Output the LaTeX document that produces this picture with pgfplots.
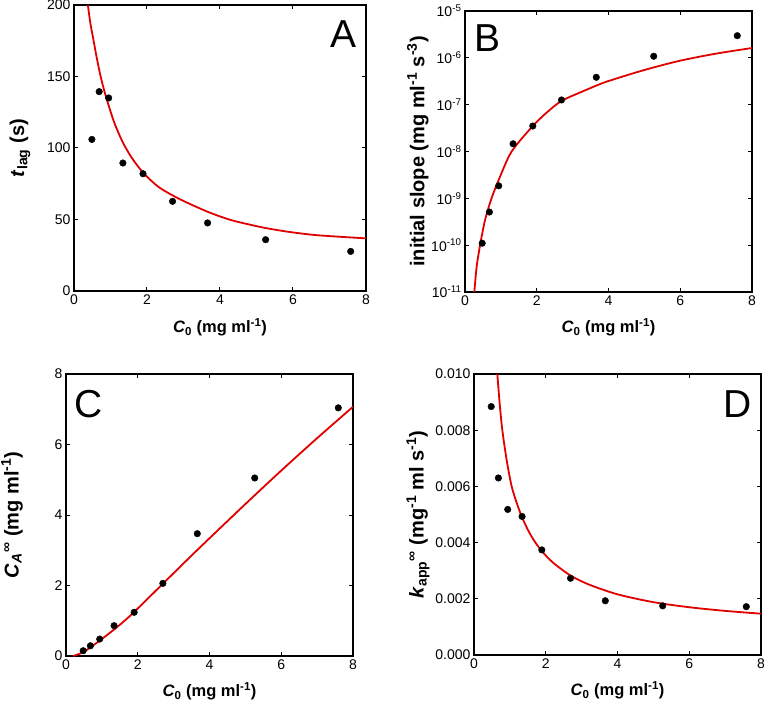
\documentclass[border=0pt]{standalone}
\usepackage{fontspec}
\setmainfont{Liberation Sans}
\usepackage{pgfplots}
\pgfplotsset{compat=1.18}
\definecolor{fitred}{RGB}{224,0,0}
\tikzset{letter/.style={font=\fontsize{39}{40}\selectfont}}
\pgfplotsset{
  panel/.style={scale only axis, anchor=south west,
    xmin=0, xmax=8, xtick={0,2,4,6,8},
    tick align=inside, major tick length=4pt,
    axis line style={line width=1.3pt},
    every tick/.style={black, line width=1pt},
    tick label style={font=\fontsize{14}{16}\selectfont},
    xlabel style={font=\fontsize{16.5}{18}\selectfont\bfseries},
    ylabel style={font=\fontsize{20}{22}\selectfont\bfseries},
    /pgf/number format/assume math mode=true,
    xlabel={\textit{C}\textsubscript{0} (mg ml\textsuperscript{-1})},
    xlabel style={at={(axis description cs:0.5,-0.145)}, anchor=base},
  },
  dots/.style={only marks, mark=*, mark size=3.3pt, black},
  fit/.style={fitred, line width=1.8pt, no marks, smooth, tension=0.5},
}
\begin{document}
\begin{tikzpicture}
\useasboundingbox (0pt,0pt) rectangle (764pt,705pt);

% Panel A
\begin{axis}[panel, at={(74pt,414pt)}, width=292pt, height=286pt,
  ymin=0, ymax=200, ytick={0,50,100,150,200},
  ylabel={\textit{t}\textsubscript{lag} (s)},
  ylabel style={at={(axis description cs:-0.185,0.5)}, anchor=center, rotate=0}]
\addplot[fit] coordinates {(0.38,200) (0.45,187) (0.53,176) (0.62,163.5) (0.73,150) (0.83,140) (0.94,130.5) (1.1,118) (1.28,107) (1.42,100) (1.6,92.5) (1.87,83.4) (2.1,77.5) (2.37,71.8) (2.8,65.5) (3.24,60.1) (3.75,54.5) (4.29,49.7) (4.8,46.5) (5.3,43.8) (5.9,41.3) (6.58,39.2) (7.3,37.9) (8,36.8)};
\addplot[dots] coordinates {(0.49,106) (0.69,139.4) (0.95,135) (1.34,89.5) (1.89,82) (2.70,62.7) (3.66,47.6) (5.25,35.9) (7.58,27.7)};
\node[letter] at (axis description cs:0.923,0.899) {A};
\end{axis}

% Panel B
\begin{axis}[panel, at={(465pt,413pt)}, width=287pt, height=281pt,
  ymode=log, ymin=1e-11, ymax=1e-5, yminorticks=false,
  ytick={1e-11,1e-10,1e-9,1e-8,1e-7,1e-6,1e-5},
  yticklabels={10\textsuperscript{-11},10\textsuperscript{-10},10\textsuperscript{-9},10\textsuperscript{-8},10\textsuperscript{-7},10\textsuperscript{-6},10\textsuperscript{-5}},
  ylabel={initial slope (mg ml\textsuperscript{-1} s\textsuperscript{-3})},
  ylabel style={at={(axis description cs:-0.164,0.5)}, anchor=center, rotate=0}]
\addplot[fit] coordinates {(0.26,1e-11) (0.325,3.47e-11) (0.42,1e-10) (0.56,3.47e-10) (0.74,1e-9) (0.975,2.88e-9) (1.30,1e-8) (1.86,3.3e-8) (2.25,6.5e-8) (2.69,1.2e-7) (3.3,1.95e-7) (3.66,2.55e-7) (4,3.2e-7) (5,5.5e-7) (6,8.7e-7) (7,1.23e-6) (8,1.62e-6)};
\addplot[dots] coordinates {(0.48,1.1e-10) (0.68,5.1e-10) (0.94,1.85e-9) (1.34,1.46e-8) (1.89,3.5e-8) (2.69,1.26e-7) (3.66,3.84e-7) (5.26,1.08e-6) (7.59,2.97e-6)};
\node[letter] at (axis description cs:0.078,0.902) {B};
\end{axis}

% Panel C
\begin{axis}[panel, at={(66pt,49pt)}, width=287pt, height=282pt,
  ymin=0, ymax=8, ytick={0,2,4,6,8},
  ylabel={\textit{C}\textsubscript{\textit{A}}\textsuperscript{∞} (mg ml\textsuperscript{-1})},
  ylabel style={at={(axis description cs:-0.188,0.5)}, anchor=center, rotate=0}]
\addplot[fit] coordinates {(0.2,0) (0.5,0.12) (0.93,0.43) (1.4,0.8) (1.86,1.21) (2.69,2.04) (3.5,2.85) (4,3.34) (5,4.31) (6,5.26) (7,6.18) (8,7.07)};
\addplot[dots] coordinates {(0.48,0.15) (0.68,0.29) (0.94,0.48) (1.34,0.86) (1.90,1.24) (2.70,2.06) (3.66,3.47) (5.26,5.05) (7.59,7.04)};
\node[letter] at (axis description cs:0.077,0.894) {C};
\end{axis}

% Panel D
\begin{axis}[panel, at={(474pt,50pt)}, width=287pt, height=281pt,
  ymin=0, ymax=0.010, ytick={0,0.002,0.004,0.006,0.008,0.010},
  yticklabels={0.000,0.002,0.004,0.006,0.008,0.010},
  scaled y ticks=false,
  ylabel={\textit{k}\textsubscript{app}\textsuperscript{∞} (mg\textsuperscript{-1} ml s\textsuperscript{-1})},
  ylabel style={at={(axis description cs:-0.195,0.5)}, anchor=center, rotate=0}]
\addplot[fit] coordinates {(0.65,0.0100) (0.715,0.00896) (0.79,0.0080) (0.91,0.00694) (1.05,0.0060) (1.2,0.00538) (1.33,0.00493) (1.5,0.00446) (1.67,0.00408) (1.89,0.00370) (2.2,0.00329) (2.69,0.00283) (3.2,0.00251) (4,0.00216) (5,0.00188) (6,0.00170) (7,0.00157) (8,0.00147)};
\addplot[dots] coordinates {(0.48,0.00884) (0.68,0.0063) (0.94,0.00518) (1.34,0.00493) (1.89,0.00374) (2.69,0.00273) (3.66,0.00193) (5.26,0.00175) (7.59,0.00172)};
\node[letter] at (axis description cs:0.918,0.893) {D};
\end{axis}
\end{tikzpicture}
\end{document}
